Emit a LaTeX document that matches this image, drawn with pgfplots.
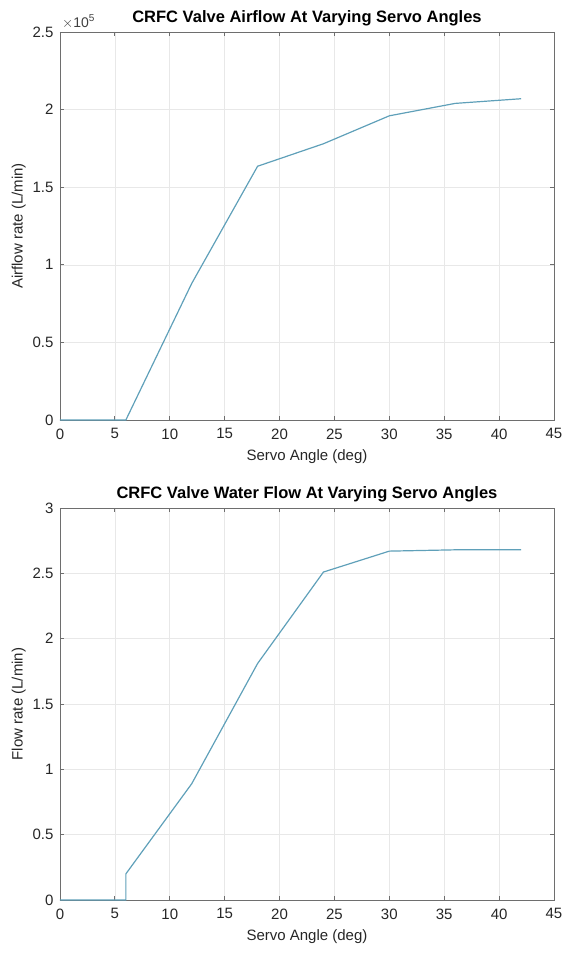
\documentclass[border=0pt]{standalone}
\usepackage{pgfplots}
\pgfplotsset{compat=1.18}
\usepackage{fontspec}
\setmainfont{Liberation Sans}
\definecolor{linec}{RGB}{95,160,185}
\definecolor{axc}{RGB}{110,110,110}
\definecolor{gridc}{RGB}{232,232,232}
\pgfplotsset{
  mystyle/.style={
    scale only axis, width=494pt,
    xmin=0, xmax=45, xtick={0,5,...,45},
    grid=major, major grid style={gridc, line width=0.6pt},
    axis line style={axc, line width=0.8pt},
    tick style={axc, line width=0.8pt},
    tick align=inside, major tick length=4pt,
    ticklabel style={font=\fontsize{15}{18}\selectfont, text=black!85},
    xticklabel style={yshift=-5pt},
    yticklabel style={xshift=-3pt},
    label style={font=\fontsize{15}{18}\selectfont, text=black!85},
    title style={font=\fontsize{16.5}{19}\selectfont\bfseries, yshift=-4pt},
    /pgf/number format/assume math mode=true,
    scaled y ticks=false,
    xlabel={Servo Angle (deg)},
    xlabel style={yshift=-4pt},
    ylabel style={yshift=0pt},
  }
}
\begin{document}
\begin{tikzpicture}
\useasboundingbox (-60pt,-533pt) rectangle (505pt,420pt);
\begin{axis}[mystyle, height=388pt, at={(0pt,0pt)},
  ymin=0, ymax=250000, ytick={0,50000,100000,150000,200000,250000},
  yticklabels={0,0.5,1,1.5,2,2.5},
  ylabel={Airflow rate (L/min)},
  title={CRFC Valve Airflow At Varying Servo Angles},
  clip=false]
\addplot[linec, line width=1.2pt] coordinates {
(0,0) (6,0) (12,88000) (18,163500) (24,178000) (30,196000) (36,204000) (42,207000)
};
\node[anchor=south west, inner sep=0pt, font=\fontsize{14}{16}\selectfont, text=black!75] at (rel axis cs:0,1) [yshift=3pt, xshift=2pt] {$\times$10\raisebox{0.8ex}{\fontsize{10}{12}\selectfont 5}};
\end{axis}
\begin{axis}[mystyle, height=392pt, at={(0pt,-480pt)},
  ymin=0, ymax=3, ytick={0,0.5,...,3},
  yticklabels={0,0.5,1,1.5,2,2.5,3},
  ylabel={Flow rate (L/min)},
  title={CRFC Valve Water Flow At Varying Servo Angles}]
\addplot[linec, line width=1.2pt] coordinates {
(0,0) (6,0) (6,0.2) (12,0.89) (18,1.81) (24,2.51) (30,2.67) (36,2.68) (42,2.68)
};
\end{axis}
\end{tikzpicture}
\end{document}
